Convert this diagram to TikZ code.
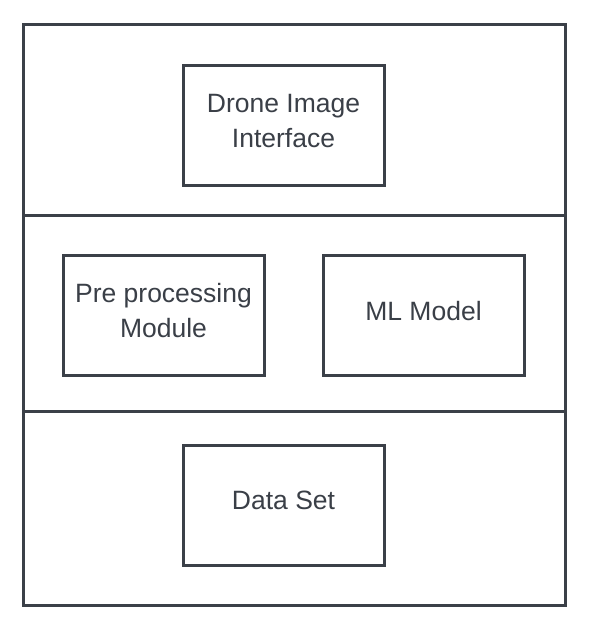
\documentclass[tikz,border=0pt]{standalone}
\usepackage{fontspec}
\setmainfont{Liberation Sans}
\usetikzlibrary{shadows}
\definecolor{edge}{HTML}{3B4048}
\definecolor{txt}{HTML}{3A3F47}
\begin{document}
\begin{tikzpicture}[x=1pt,y=-1pt,
  block/.style={draw=edge, line width=3pt, fill=white, minimum width=201pt, minimum height=120pt,
    align=center, text=txt, font=\fontsize{26.5}{35}\selectfont, text depth=9pt,
    drop shadow={shadow xshift=0pt, shadow yshift=-2pt, opacity=0.12, fill=black}},
  frame/.style={draw=edge, line width=3pt}]
\useasboundingbox (0,0) rectangle (592,638);
\draw[frame, fill=white, drop shadow={shadow xshift=0pt, shadow yshift=-2pt, opacity=0.1, fill=black}] (23,24) rectangle (565,605);
\coordinate (l1) at (23,215); \coordinate (r1) at (565,215);
\coordinate (l2) at (23,411); \coordinate (r2) at (565,411);
\draw[frame] (l1) -- (r1);
\draw[frame] (l2) -- (r2);
\node[block] (drone) at (283.5,125) {Drone Image\\Interface};
\node[block] (pre) at (163.5,315) {Pre processing\\Module};
\node[block] (ml) at (423.5,315) {ML Model};
\node[block] (data) at (283.5,505) {Data Set};
\end{tikzpicture}
\end{document}
